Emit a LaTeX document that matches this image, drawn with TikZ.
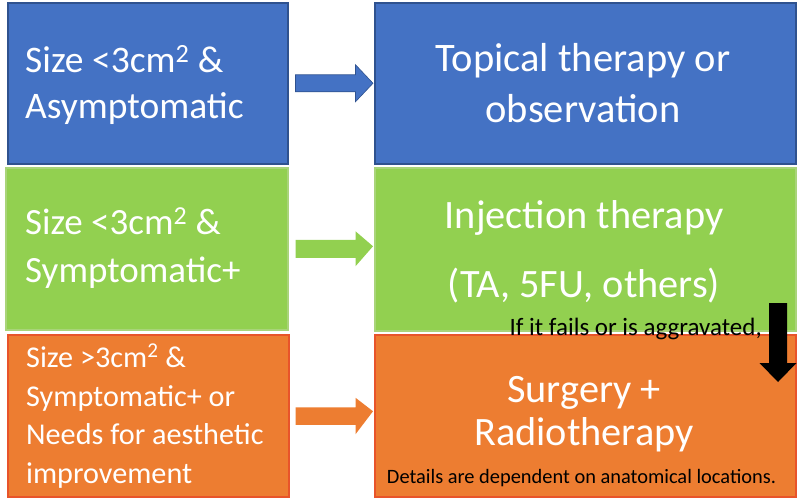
\documentclass[tikz,border=0pt]{standalone}
\usepackage{fontspec}
\setmainfont{Carlito}
\usetikzlibrary{calc}
\definecolor{oblue}{HTML}{4472C4}
\definecolor{obluedark}{HTML}{2F528F}
\definecolor{ogreen}{HTML}{92D050}
\definecolor{ogreenedge}{HTML}{A9D47A}
\definecolor{oorange}{HTML}{ED7D31}
\definecolor{oorangeedge}{HTML}{E8542A}
\tikzset{
  box/.style={draw, line width=1.5pt, anchor=north west, inner sep=0pt},
  bluebox/.style={box, fill=oblue, draw=obluedark},
  greenbox/.style={box, fill=ogreen, draw=ogreenedge},
  orangebox/.style={box, fill=oorange, draw=oorangeedge},
  wtxt/.style={text=white, inner sep=0pt},
  btxt/.style={text=black, inner sep=0pt},
}
\begin{document}
\begin{tikzpicture}[x=1pt,y=-1pt]
\useasboundingbox (0,0) rectangle (800,501);
\fill[white] (0,0) rectangle (800,501);
% boxes
\node[bluebox, minimum width=280pt, minimum height=161pt] (b1) at (7,2) {};
\node[bluebox, minimum width=421pt, minimum height=161pt] (b2) at (374,2) {};
\node[greenbox, minimum width=282pt, minimum height=162pt] (g1) at (5,167) {};
\node[greenbox, minimum width=421pt, minimum height=163pt] (g2) at (374,167) {};
\node[orangebox, minimum width=281pt, minimum height=162pt] (o1) at (7,334) {};
\node[orangebox, minimum width=421pt, minimum height=162pt] (o2) at (374,334) {};
% block arrows (horizontal)
\fill[oblue, draw=obluedark, line width=0.6pt]
  ($(b1.east)+(7,-8.5)$) -- ++(60,0) -- ++(0,-10) -- ($(b2.west)+(-1,0)$)
  -- ($(b1.east)+(67,18.5)$) -- ++(0,-10) -- ++(-60,0) -- cycle;
\fill[ogreen]
  ($(g1.east)+(7,-9)$) -- ++(60,0) -- ++(0,-8.5) -- ($(g2.west)+(-1,-3)$)
  -- ($(g1.east)+(67,17.5)$) -- ++(0,-8.5) -- ++(-60,0) -- cycle;
\fill[oorange]
  ($(o1.east)+(6,-8.5)$) -- ++(60,0) -- ++(0,-9.5) -- ($(o2.west)+(-1,-4.5)$)
  -- ($(o1.east)+(66,18.5)$) -- ++(0,-9.5) -- ++(-60,0) -- cycle;
% left texts
\node[wtxt, anchor=base west, font=\fontsize{37.5}{37.5}\selectfont] (l1a) at (25,72) {Size <3cm\textsuperscript{2} \&};
\node[wtxt, anchor=base west, font=\fontsize{37.5}{37.5}\selectfont] (l1b) at (25,118) {Asymptomatic};
\node[wtxt, anchor=base west, font=\fontsize{37}{37}\selectfont] (l2a) at (25,234) {Size <3cm\textsuperscript{2} \&};
\node[wtxt, anchor=base west, font=\fontsize{37}{37}\selectfont] (l2b) at (25,282) {Symptomatic+};
\node[wtxt, anchor=base west, font=\fontsize{30.2}{30.2}\selectfont] (l3a) at (26,367) {Size >3cm\textsuperscript{2} \&};
\node[wtxt, anchor=base west, font=\fontsize{30.2}{30.2}\selectfont] (l3b) at (26,406) {Symptomatic+ or};
\node[wtxt, anchor=base west, font=\fontsize{30.2}{30.2}\selectfont] (l3c) at (26,444) {Needs for aesthetic};
\node[wtxt, anchor=base west, font=\fontsize{30.2}{30.2}\selectfont] (l3d) at (26,483) {improvement};
% right texts
\node[wtxt, anchor=base, font=\fontsize{40.5}{40.5}\selectfont] (r1a) at (583,71) {Topical therapy or};
\node[wtxt, anchor=base, font=\fontsize{40.5}{40.5}\selectfont] (r1b) at (583,122) {observation};
\node[wtxt, anchor=base, font=\fontsize{40.3}{40.3}\selectfont] (r2a) at (584,228) {Injection therapy};
\node[wtxt, anchor=base, font=\fontsize{40.3}{40.3}\selectfont] (r2b) at (584,297) {(TA, 5FU, others)};
\node[wtxt, anchor=base, font=\fontsize{40.3}{40.3}\selectfont] (r3a) at (584,402) {Surgery +};
\node[wtxt, anchor=base, font=\fontsize{40.3}{40.3}\selectfont] (r3b) at (584,445) {Radiotherapy};
\node[btxt, anchor=base, font=\fontsize{20.4}{20.4}\selectfont] (det) at (581.5,483) {Details are dependent on anatomical locations.};
\node[btxt, anchor=base east, font=\fontsize{25}{25}\selectfont] (fail) at (762,335) {If it fails or is aggravated,};
% black down arrow
\coordinate (dtop) at (778,303);
\fill[black] ($(dtop)+(-9,0)$) -- ++(18,0) -- ++(0,60) -- ++(9.5,0) -- ($(dtop)+(0,79)$)
  -- ($(dtop)+(-18.5,60)$) -- ++(9.5,0) -- cycle;
\end{tikzpicture}
\end{document}
